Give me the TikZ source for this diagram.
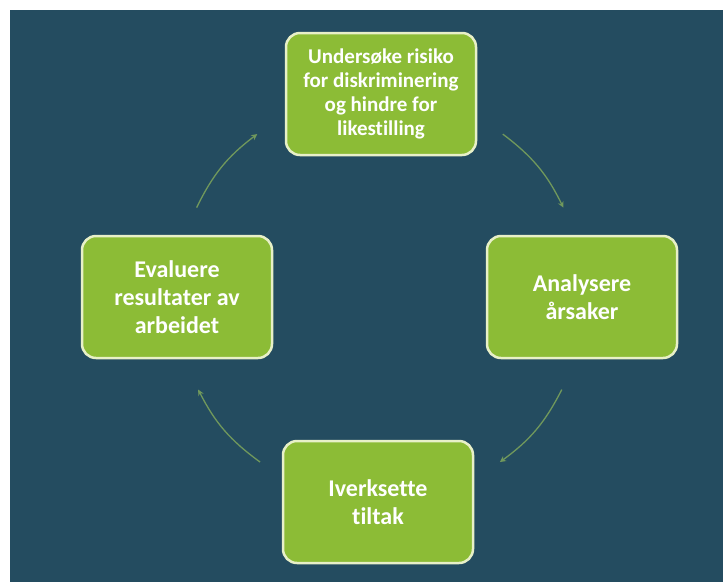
\documentclass[tikz,border=0pt]{standalone}
\usepackage{fontspec}
\setmainfont{Carlito}[Ligatures=NoCommon]
\usetikzlibrary{arrows.meta}
\definecolor{bg}{RGB}{36,76,96}
\definecolor{boxgreen}{RGB}{140,188,54}
\definecolor{boxedge}{RGB}{232,240,200}
\definecolor{arcgreen}{RGB}{112,152,92}
\tikzset{
  stepbox/.style={draw=boxedge, line width=2.5pt, fill=boxgreen, rounded corners=14pt,
    minimum width=190pt, minimum height=122pt, text=white, align=center, inner sep=2pt,
    font=\fontsize{24}{28}\selectfont\bfseries},
  smallbox/.style={stepbox, font=\fontsize{21}{24}\selectfont\bfseries},
  cyclearc/.style={draw=arcgreen, line width=1.3pt, bend left=13.5, -{Stealth[length=6pt,width=6pt]}}
}
\begin{document}
\begin{tikzpicture}[x=1pt,y=-1pt]
\useasboundingbox (0,0) rectangle (723,582);
\fill[white] (0,0) rectangle (723,582);
\fill[bg] (10,10) rectangle (723,582);
\coordinate (c) at (380,297);
\node[smallbox] (top) at (381,94) {Undersøke risiko\\for diskriminering\\og hindre for\\likestilling};
\node[stepbox] (right) at (582,297) {Analysere\\årsaker};
\node[stepbox] (bottom) at (378,502) {Iverksette\\tiltak};
\node[stepbox] (left) at (177,297) {Evaluere\\resultater av\\arbeidet};
\coordinate (a1s) at ([shift={(53:204pt)}]c);
\coordinate (a1e) at ([shift={(26:204pt)}]c);
\coordinate (a2s) at ([shift={(-27:204pt)}]c);
\coordinate (a2e) at ([shift={(-54:204pt)}]c);
\coordinate (a3s) at ([shift={(-126:204pt)}]c);
\coordinate (a3e) at ([shift={(-153:204pt)}]c);
\coordinate (a4s) at ([shift={(154:204pt)}]c);
\coordinate (a4e) at ([shift={(127:204pt)}]c);
\draw[cyclearc] (a1s) to (a1e);
\draw[cyclearc] (a2s) to (a2e);
\draw[cyclearc] (a3s) to (a3e);
\draw[cyclearc] (a4s) to (a4e);
\end{tikzpicture}
\end{document}
